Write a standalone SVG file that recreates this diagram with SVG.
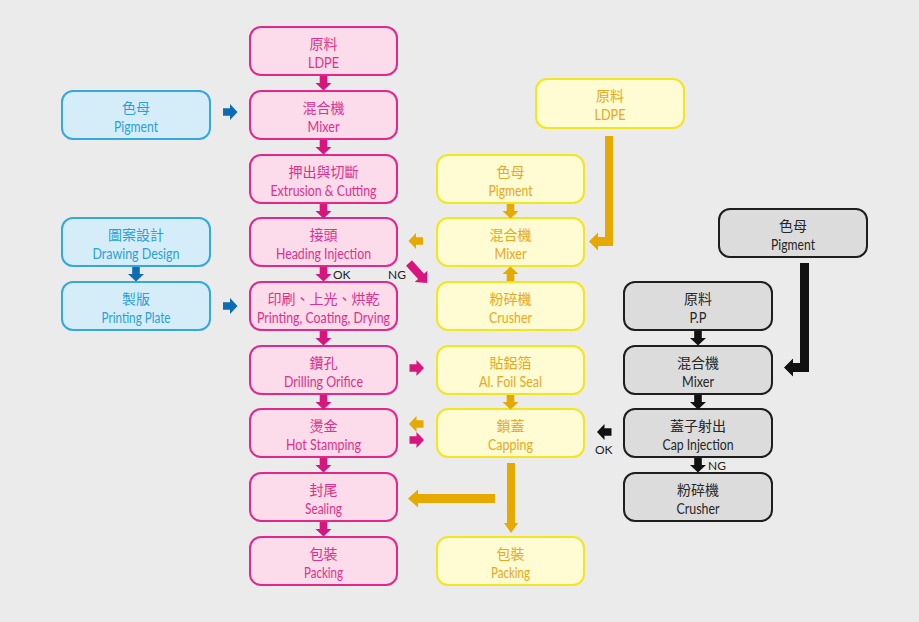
<svg xmlns="http://www.w3.org/2000/svg" xmlns:xlink="http://www.w3.org/1999/xlink" width="919" height="622" viewBox="0 0 919 622">
<style>
.bg{fill:#ebebeb}
.box{stroke-width:2}
.pk rect{fill:#fcdbea;stroke:#e2288a}
.pk text{fill:#e0308a}
.bl rect{fill:#d5edf9;stroke:#33a9e0}
.bl text{fill:#2c9fd8}
.yl rect{fill:#fffbd2;stroke:#f4e521}
.yl text{fill:#e8a820}
.gy rect{fill:#dcdcdc;stroke:#1e1e1e}
.gy text{fill:#262626}
text{text-anchor:middle}
.zh{font-family:"Noto Sans CJK TC","Noto Sans CJK SC",sans-serif;font-size:14px}
.en{font-family:Lato,"Liberation Sans",sans-serif;font-size:14.5px}
.lbl{font-family:Lato,"Liberation Sans",sans-serif;font-size:12px;text-anchor:start}
.apk{fill:#d8157d}
.abl{fill:#0c6cb4}
.ayl{fill:#e6a900}
.agy{fill:#111}
</style>
<defs>
<path id="arr" d="M0,-3.8 H7 V-8 L14.5,0 L7,8 V3.8 H0 Z"/>
</defs>
<rect class="bg" width="919" height="622"/>

<!-- pink column -->
<g id="p1" class="pk"><rect class="box" x="250" y="27" width="147" height="48" rx="11"/><text class="zh" x="323.5" y="49">原料</text><text class="en" x="323.5" y="67.5" textLength="31" lengthAdjust="spacingAndGlyphs">LDPE</text></g>
<g id="p2" class="pk"><rect class="box" x="250" y="91" width="147" height="48" rx="11"/><text class="zh" x="323.5" y="113">混合機</text><text class="en" x="323.5" y="131.5" textLength="32" lengthAdjust="spacingAndGlyphs">Mixer</text></g>
<g id="p3" class="pk"><rect class="box" x="250" y="155" width="147" height="48" rx="11"/><text class="zh" x="323.5" y="177">押出與切斷</text><text class="en" x="323.5" y="195.5" textLength="106" lengthAdjust="spacingAndGlyphs">Extrusion &amp; Cutting</text></g>
<g id="p4" class="pk"><rect class="box" x="250" y="218" width="147" height="48" rx="11"/><text class="zh" x="323.5" y="240">接頭</text><text class="en" x="323.5" y="258.5" textLength="95" lengthAdjust="spacingAndGlyphs">Heading Injection</text></g>
<g id="p5" class="pk"><rect class="box" x="250" y="282" width="147" height="48" rx="11"/><text class="zh" x="323.5" y="304">印刷、上光、烘乾</text><text class="en" x="323.5" y="322.5" textLength="133" lengthAdjust="spacingAndGlyphs">Printing, Coating, Drying</text></g>
<g id="p6" class="pk"><rect class="box" x="250" y="346" width="147" height="48" rx="11"/><text class="zh" x="323.5" y="368">鑽孔</text><text class="en" x="323.5" y="386.5" textLength="79" lengthAdjust="spacingAndGlyphs">Drilling Orifice</text></g>
<g id="p7" class="pk"><rect class="box" x="250" y="409" width="147" height="48" rx="11"/><text class="zh" x="323.5" y="431">燙金</text><text class="en" x="323.5" y="449.5" textLength="75" lengthAdjust="spacingAndGlyphs">Hot Stamping</text></g>
<g id="p8" class="pk"><rect class="box" x="250" y="473" width="147" height="48" rx="11"/><text class="zh" x="323.5" y="495">封尾</text><text class="en" x="323.5" y="513.5" textLength="37" lengthAdjust="spacingAndGlyphs">Sealing</text></g>
<g id="p9" class="pk"><rect class="box" x="250" y="537" width="147" height="48" rx="11"/><text class="zh" x="323.5" y="559">包裝</text><text class="en" x="323.5" y="577.5" textLength="39" lengthAdjust="spacingAndGlyphs">Packing</text></g>

<!-- blue column -->
<g id="b1" class="bl"><rect class="box" x="62" y="91" width="148" height="48" rx="11"/><text class="zh" x="136" y="113">色母</text><text class="en" x="136" y="131.5" textLength="44" lengthAdjust="spacingAndGlyphs">Pigment</text></g>
<g id="b2" class="bl"><rect class="box" x="62" y="218" width="148" height="48" rx="11"/><text class="zh" x="136" y="240">圖案設計</text><text class="en" x="136" y="258.5" textLength="87" lengthAdjust="spacingAndGlyphs">Drawing Design</text></g>
<g id="b3" class="bl"><rect class="box" x="62" y="282" width="148" height="48" rx="11"/><text class="zh" x="136" y="304">製版</text><text class="en" x="136" y="322.5" textLength="69" lengthAdjust="spacingAndGlyphs">Printing Plate</text></g>

<!-- yellow column -->
<g id="y0" class="yl"><rect class="box" x="536" y="79" width="148" height="49" rx="11"/><text class="zh" x="610" y="101">原料</text><text class="en" x="610" y="119.5" textLength="31" lengthAdjust="spacingAndGlyphs">LDPE</text></g>
<g id="y1" class="yl"><rect class="box" x="437" y="155" width="147" height="48" rx="11"/><text class="zh" x="510.5" y="177">色母</text><text class="en" x="510.5" y="195.5" textLength="44" lengthAdjust="spacingAndGlyphs">Pigment</text></g>
<g id="y2" class="yl"><rect class="box" x="437" y="218" width="147" height="48" rx="11"/><text class="zh" x="510.5" y="240">混合機</text><text class="en" x="510.5" y="258.5" textLength="32" lengthAdjust="spacingAndGlyphs">Mixer</text></g>
<g id="y3" class="yl"><rect class="box" x="437" y="282" width="147" height="48" rx="11"/><text class="zh" x="510.5" y="304">粉碎機</text><text class="en" x="510.5" y="322.5" textLength="43" lengthAdjust="spacingAndGlyphs">Crusher</text></g>
<g id="y4" class="yl"><rect class="box" x="437" y="346" width="147" height="48" rx="11"/><text class="zh" x="510.5" y="368">貼鋁箔</text><text class="en" x="510.5" y="386.5" textLength="63" lengthAdjust="spacingAndGlyphs">Al. Foil Seal</text></g>
<g id="y5" class="yl"><rect class="box" x="437" y="409" width="147" height="48" rx="11"/><text class="zh" x="510.5" y="431">鎖蓋</text><text class="en" x="510.5" y="449.5" textLength="45" lengthAdjust="spacingAndGlyphs">Capping</text></g>
<g id="y6" class="yl"><rect class="box" x="437" y="537" width="147" height="48" rx="11"/><text class="zh" x="510.5" y="559">包裝</text><text class="en" x="510.5" y="577.5" textLength="39" lengthAdjust="spacingAndGlyphs">Packing</text></g>

<!-- gray column -->
<g id="g0" class="gy"><rect class="box" x="719" y="209" width="148" height="48" rx="11"/><text class="zh" x="793" y="231">色母</text><text class="en" x="793" y="249.5" textLength="44" lengthAdjust="spacingAndGlyphs">Pigment</text></g>
<g id="g1" class="gy"><rect class="box" x="624" y="282" width="148" height="48" rx="11"/><text class="zh" x="698" y="304">原料</text><text class="en" x="698" y="322.5" textLength="17" lengthAdjust="spacingAndGlyphs">P.P</text></g>
<g id="g2" class="gy"><rect class="box" x="624" y="346" width="148" height="48" rx="11"/><text class="zh" x="698" y="368">混合機</text><text class="en" x="698" y="386.5" textLength="32" lengthAdjust="spacingAndGlyphs">Mixer</text></g>
<g id="g3" class="gy"><rect class="box" x="624" y="409" width="148" height="48" rx="11"/><text class="zh" x="698" y="431">蓋子射出</text><text class="en" x="698" y="449.5" textLength="71" lengthAdjust="spacingAndGlyphs">Cap Injection</text></g>
<g id="g4" class="gy"><rect class="box" x="624" y="473" width="148" height="48" rx="11"/><text class="zh" x="698" y="495">粉碎機</text><text class="en" x="698" y="513.5" textLength="43" lengthAdjust="spacingAndGlyphs">Crusher</text></g>

<!-- connectors -->
<g id="connectors">
<use href="#arr" class="apk" transform="translate(323.5,76) rotate(90)"/>
<use href="#arr" class="apk" transform="translate(323.5,140) rotate(90)"/>
<use href="#arr" class="apk" transform="translate(323.5,204) rotate(90)"/>
<use href="#arr" class="apk" transform="translate(323.5,267) rotate(90)"/>
<use href="#arr" class="apk" transform="translate(323.5,331) rotate(90)"/>
<use href="#arr" class="apk" transform="translate(323.5,395) rotate(90)"/>
<use href="#arr" class="apk" transform="translate(323.5,458) rotate(90)"/>
<use href="#arr" class="apk" transform="translate(323.5,522) rotate(90)"/>
<path class="apk" transform="translate(409,263) rotate(48)" d="M0,-4 H18 V-8.5 L27,0 L18,8.5 V4 H0 Z"/>
<use href="#arr" class="apk" transform="translate(409.5,368)"/>
<use href="#arr" class="apk" transform="translate(409.5,440)"/>

<use href="#arr" class="abl" transform="translate(223,112)"/>
<use href="#arr" class="abl" transform="translate(223,306)"/>
<use href="#arr" class="abl" transform="translate(136,267) rotate(90)"/>

<use href="#arr" class="ayl" transform="translate(423,241) rotate(180)"/>
<use href="#arr" class="ayl" transform="translate(423.5,424) rotate(180)"/>
<use href="#arr" class="ayl" transform="translate(510.5,204) rotate(90)"/>
<use href="#arr" class="ayl" transform="translate(510.5,281) rotate(-90)"/>
<use href="#arr" class="ayl" transform="translate(510.5,395) rotate(90)"/>
<path class="ayl" d="M495,494 H418 V489.5 L408,498.5 L418,507.5 V503 H495 Z"/>
<path class="ayl" d="M507,463 H515 V523 H518 L511,533 L504,523 H507 Z"/>
<path class="ayl" d="M605,136 H613 V246 H598 V250.5 L589,241.5 L598,232.5 V237 H605 Z"/>

<path class="agy" d="M800,263 H809 V372 H793 V376.5 L784,367.5 L793,358.5 V363 H800 Z"/>
<use href="#arr" class="agy" transform="translate(698,331) rotate(90)"/>
<use href="#arr" class="agy" transform="translate(698,395) rotate(90)"/>
<use href="#arr" class="agy" transform="translate(698,458) rotate(90)"/>
<use href="#arr" class="agy" transform="translate(611.5,432) rotate(180)"/>

<text class="lbl" x="333" y="279" fill="#222">OK</text>
<text class="lbl" x="388" y="279" fill="#222">NG</text>
<text class="lbl" x="708" y="470" fill="#222">NG</text>
<text class="lbl" x="595" y="454" fill="#222">OK</text>
</g>
</svg>
